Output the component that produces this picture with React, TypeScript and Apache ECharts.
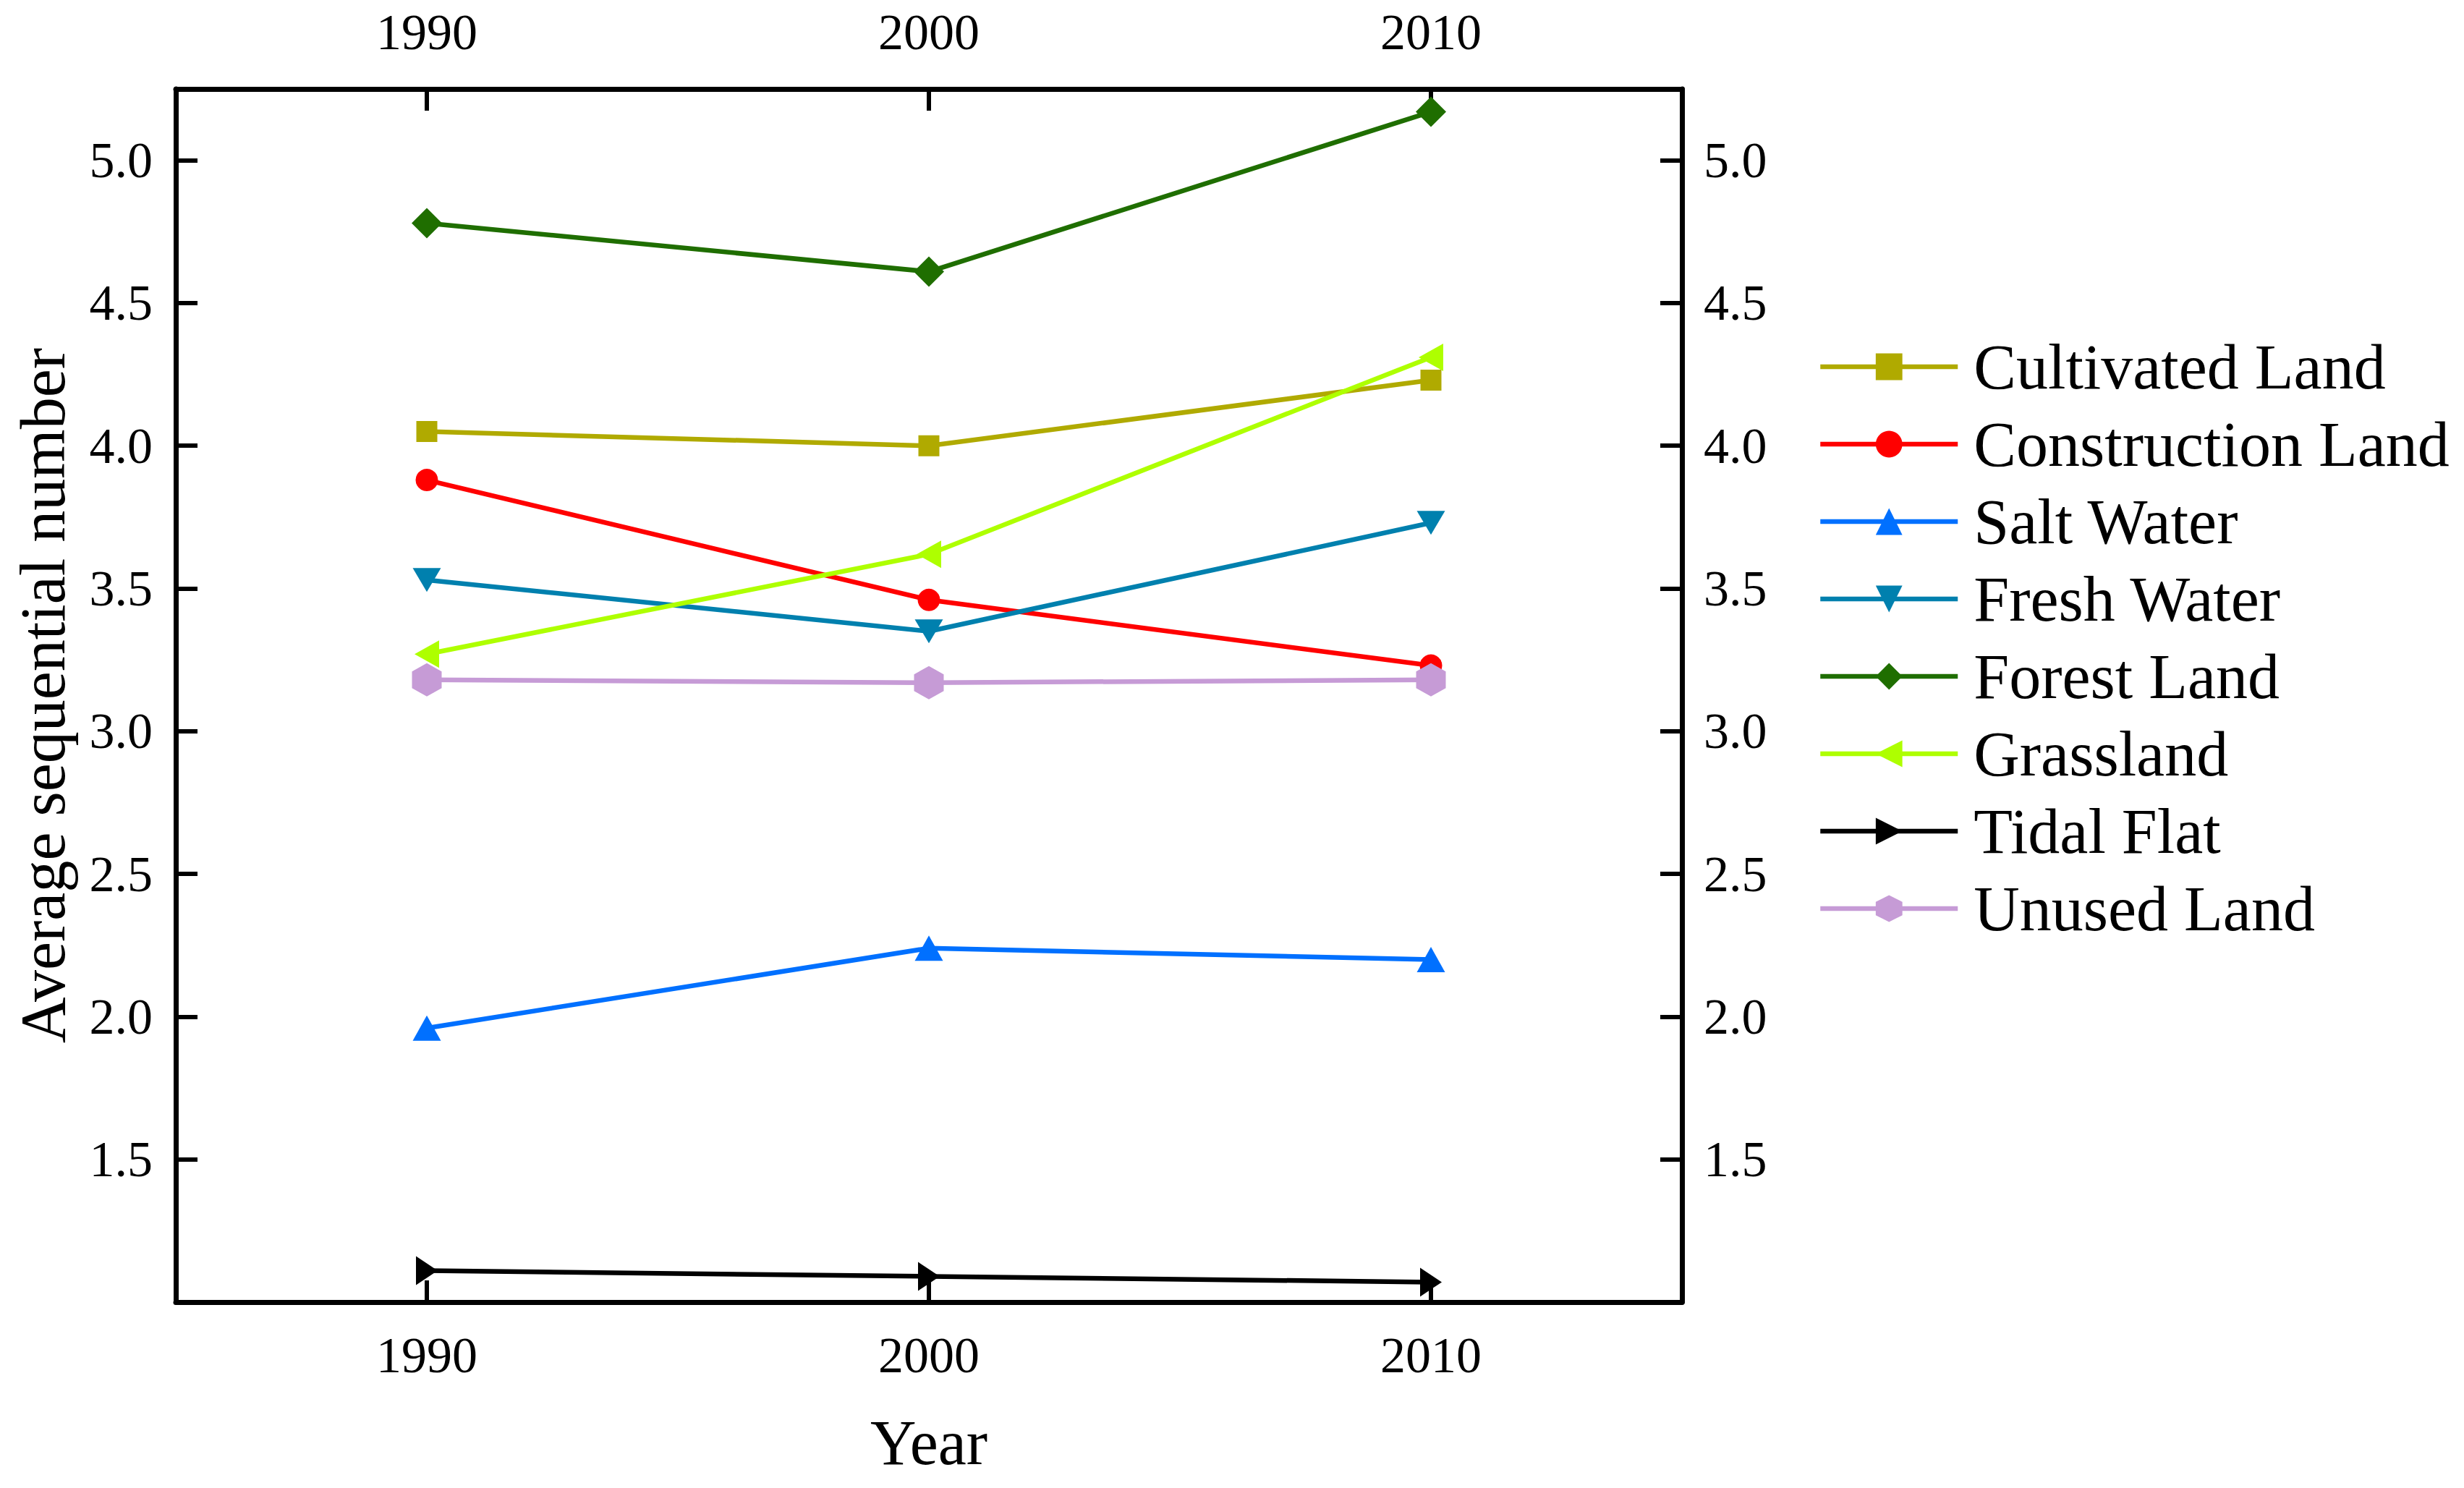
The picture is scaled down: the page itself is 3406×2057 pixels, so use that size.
import React, { useEffect, useRef } from "react";
import * as echarts from "echarts";

const years = ["1990", "2000", "2010"];
const seriesNames = [
  "Cultivated Land",
  "Construction Land",
  "Salt Water",
  "Fresh Water",
  "Forest Land",
  "Grassland",
  "Tidal Flat",
  "Unused Land",
];
const cultivatedLand = [4.05, 4.0, 4.23];
const constructionLand = [3.88, 3.46, 3.23];
const saltWater = [1.96, 2.24, 2.2];
const freshWater = [3.53, 3.35, 3.73];
const forestLand = [4.78, 4.61, 5.17];
const grassland = [3.27, 3.62, 4.31];
const tidalFlat = [1.11, 1.09, 1.07];
const unusedLand = [3.18, 3.17, 3.18];
const yTicks = [1.5, 2.0, 2.5, 3.0, 3.5, 4.0, 4.5, 5.0];

const colors = ["#B0AA00", "#FF0000", "#0070FF", "#0080AE", "#1F6E00", "#AEFF00", "#000000", "#C69BD6"];
const symbols = [
  "rect",
  "circle",
  "triangle",
  "path://M0,0 L2,0 L1,2 Z",
  "diamond",
  "path://M0,1 L2,0 L2,2 Z",
  "path://M0,0 L2,1 L0,2 Z",
  "path://M1,0 L2,0.5 L2,1.5 L1,2 L0,1.5 L0,0.5 Z",
];
const symbolSizes: any[] = [
  [29, 29],
  [31, 31],
  [39, 35],
  [39, 33],
  [42, 42],
  [34, 38],
  [30, 40],
  [41, 46],
];

const FONT = "'Liberation Serif', 'Times New Roman', serif";

export default function App() {
  const ref = useRef<HTMLDivElement>(null);
  useEffect(() => {
    if (!ref.current) return;
    const chart = echarts.init(ref.current, null, { renderer: "svg" });
    const allData = [cultivatedLand, constructionLand, saltWater, freshWater, forestLand, grassland, tidalFlat, unusedLand];
    const labelFmt = (v: number) => (yTicks.some((t) => Math.abs(t - v) < 1e-6) ? v.toFixed(1) : "");
    const axisLine = { show: true, lineStyle: { color: "#000", width: 7 } };
    const axisTick = { show: true, inside: true, length: 30, lineStyle: { color: "#000", width: 6 } };
    const xCommon = {
      type: "category",
      data: years,
      boundaryGap: true,
      axisLine,
      axisTick: { ...axisTick, alignWithLabel: true },
      splitLine: { show: false },
    };
    const yCommon = {
      type: "value",
      min: 1,
      max: 5.25,
      interval: 0.5,
      axisLine,
      axisTick,
      splitLine: { show: false },
    };
    chart.setOption({
      animation: false,
      backgroundColor: "#fff",
      grid: { left: 243, right: 1081, top: 123, bottom: 257, outerBoundsMode: "none", containLabel: false },
      legend: {
        orient: "vertical",
        left: 2508,
        top: 458,
        itemWidth: 190,
        itemHeight: 46,
        itemGap: 19,
        data: seriesNames,
        lineStyle: { width: 6.5 },
        textStyle: { fontFamily: FONT, fontSize: 88, color: "#000", lineHeight: 88, padding: [0, 0, 0, 17] },
      },
      xAxis: [
        {
          ...xCommon,
          position: "bottom",
          name: "Year",
          nameLocation: "middle",
          nameGap: 150,
          nameTextStyle: { fontFamily: FONT, fontSize: 88, color: "#000" },
          axisLabel: { fontFamily: FONT, fontSize: 70, color: "#000", margin: 38 },
        },
        {
          ...xCommon,
          position: "top",
          axisLabel: { fontFamily: FONT, fontSize: 70, color: "#000", margin: 44 },
        },
      ],
      yAxis: [
        {
          ...yCommon,
          position: "left",
          name: "Average sequential number",
          nameLocation: "middle",
          nameRotate: 90,
          nameGap: 140,
          nameTextStyle: { fontFamily: FONT, fontSize: 88, color: "#000" },
          axisLabel: { fontFamily: FONT, fontSize: 70, color: "#000", margin: 32, formatter: labelFmt, showMinLabel: false, showMaxLabel: false },
        },
        {
          ...yCommon,
          position: "right",
          axisLabel: { fontFamily: FONT, fontSize: 70, color: "#000", margin: 30, formatter: labelFmt, showMinLabel: false, showMaxLabel: false },
        },
      ],
      series: seriesNames.map((name, i) => ({
        name,
        type: "line",
        xAxisIndex: 0,
        yAxisIndex: 0,
        data: allData[i],
        symbol: symbols[i],
        symbolSize: symbolSizes[i],
        showAllSymbol: true,
        lineStyle: { color: colors[i], width: 6.5 },
        itemStyle: { color: colors[i], opacity: 1 },
        emphasis: { disabled: true },
        z: 2 + i,
      })),
    });
    return () => chart.dispose();
  }, []);
  return <div ref={ref} style={{ position: "absolute", left: 0, top: 0, width: 3406, height: 2057 }} />;
}
